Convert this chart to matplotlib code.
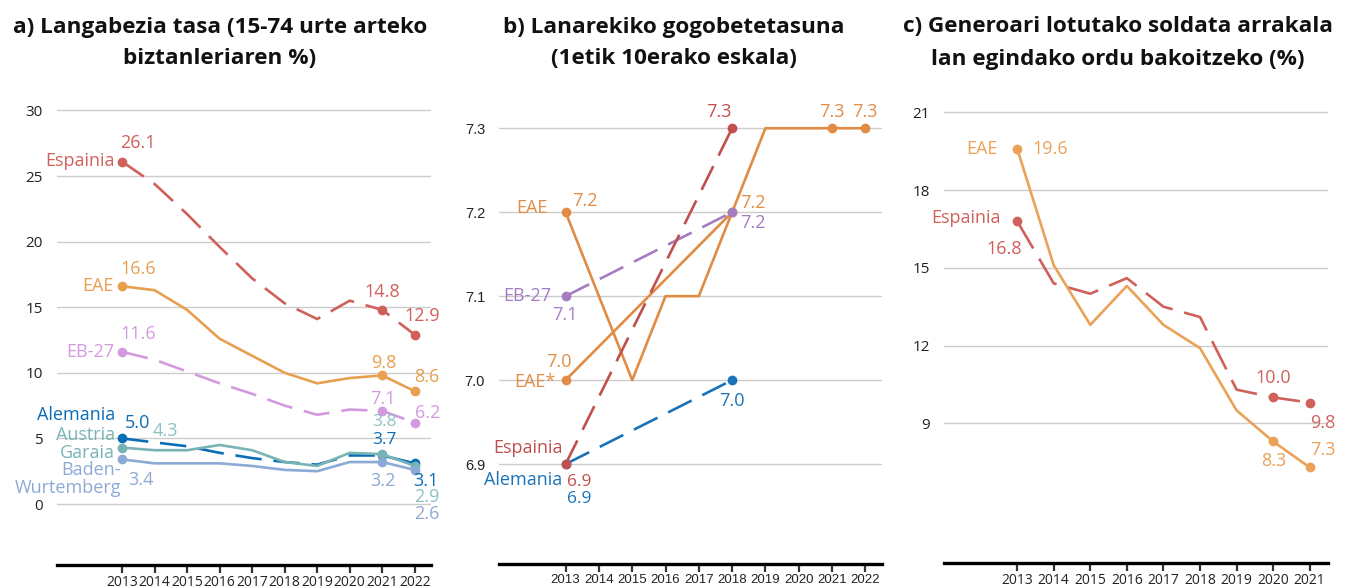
import matplotlib
matplotlib.use('Agg')
import matplotlib.pyplot as plt

plt.rcParams['font.family'] = ['Open Sans', 'DejaVu Sans']

# a) Langabezia tasa
years_a = [2013, 2014, 2015, 2016, 2017, 2018, 2019, 2020, 2021, 2022]
esp_a = [26.1, 24.4, 22.1, 19.6, 17.2, 15.3, 14.1, 15.5, 14.8, 12.9]
eae_a = [16.6, 16.3, 14.8, 12.6, 11.3, 10.0, 9.2, 9.6, 9.8, 8.6]
eb27_a = [11.6, 11.0, 10.1, 9.2, 8.4, 7.5, 6.8, 7.2, 7.1, 6.2]
ale_a = [5.0, 4.7, 4.4, 3.9, 3.5, 3.2, 3.0, 3.7, 3.7, 3.1]
aus_a = [4.3, 4.1, 4.1, 4.5, 4.1, 3.2, 2.9, 3.9, 3.8, 2.9]
bw_a = [3.4, 3.1, 3.1, 3.1, 2.9, 2.6, 2.5, 3.2, 3.2, 2.6]
yticks_a = [0, 5, 10, 15, 20, 25, 30]

# b) Lanarekiko gogobetetasuna
years_b = [2013, 2014, 2015, 2016, 2017, 2018, 2019, 2020, 2021, 2022]
eae_b = [7.2, 7.1, 7.0, 7.1, 7.1, 7.2, 7.3, 7.3, 7.3, 7.3]
years_b2 = [2013, 2018]
eae2_b = [7.0, 7.2]
eb27_b = [7.1, 7.2]
esp_b = [6.9, 7.3]
ale_b = [6.9, 7.0]
yticks_b = [6.9, 7.0, 7.1, 7.2, 7.3]

# c) Soldata arrakala
years_c = [2013, 2014, 2015, 2016, 2017, 2018, 2019, 2020, 2021]
eae_c = [19.6, 15.1, 12.8, 14.3, 12.8, 11.9, 9.5, 8.3, 7.3]
esp_c = [16.8, 14.4, 14.0, 14.6, 13.5, 13.1, 10.3, 10.0, 9.8]
yticks_c = [9, 12, 15, 18, 21]

W, H = 1346, 588
fig = plt.figure(figsize=(W / 100, H / 100), dpi=100)


def ardatza(left, right, top, bottom):
    return fig.add_axes([left / W, 1 - bottom / H, (right - left) / W, (bottom - top) / H])


def itxura(ax, yticks, fmt, ticksize, xticksize, tfont=None):
    ax.set_yticks(yticks)
    ax.set_yticklabels([fmt.format(v) for v in yticks], fontsize=ticksize, color='#222222',
                       family=tfont)
    ax.tick_params(axis='y', length=0, pad=10)
    ax.grid(axis='y', color='#cccccc', linewidth=1)
    ax.set_axisbelow(True)
    for s in ['left', 'right', 'top']:
        ax.spines[s].set_visible(False)
    ax.spines['bottom'].set_linewidth(2.4)
    ax.spines['bottom'].set_color('black')
    ax.tick_params(axis='x', length=6, width=1.6, color='#333333', pad=1,
                   labelsize=xticksize, labelcolor='#222222')


def lab(ax, x, y, txt, color, dx, dy, ha='left', size=13, ls=1.1):
    # dx, dy pixeletan (dy gora positiboa)
    ax.annotate(txt, (x, y), xytext=(dx * 0.72, dy * 0.72), textcoords='offset points',
                ha=ha, va='center', color=color, fontsize=size, linespacing=ls,
                annotation_clip=False)


# ---------- a ----------
ax = ardatza(57, 431, 98, 565)
ax.set_xlim(2011, 2022.5)
ax.set_ylim(-4.65, 30.95)
itxura(ax, yticks_a, '{:d}', 11, 10)
ax.set_xticks(years_a)

c_esp, c_eae, c_eb, c_ale, c_aus, c_bw = '#d0605a', '#e8a050', '#d49ae0', '#0b6db5', '#78b3b5', '#8caad6'
mk = [0, 8, 9]
ax.plot(years_a, eb27_a, color=c_eb, lw=1.9, dashes=(10, 4.5), marker='o', ms=6, markevery=mk)
ax.plot(years_a, esp_a, color=c_esp, lw=1.9, dashes=(10, 4.5), marker='o', ms=6, markevery=mk)
ax.plot(years_a, eae_a, color=c_eae, lw=1.9, marker='o', ms=6, markevery=mk)
ax.plot(years_a, ale_a, color=c_ale, lw=1.9, dashes=(10, 4.5), marker='o', ms=6, markevery=mk)
ax.plot(years_a, aus_a, color=c_aus, lw=1.9, marker='o', ms=6, markevery=mk)
ax.plot(years_a, bw_a, color=c_bw, lw=1.9, marker='o', ms=6, markevery=mk)

lab(ax, 2013, esp_a[0], 'Espainia', c_esp, -7, 1, 'right')
lab(ax, 2013, esp_a[0], '26.1', c_esp, -2, 19)
lab(ax, 2013, eae_a[0], 'EAE', c_eae, -8, 0, 'right')
lab(ax, 2013, eae_a[0], '16.6', c_eae, -2, 17)
lab(ax, 2013, eb27_a[0], 'EB-27', c_eb, -8, 0, 'right')
lab(ax, 2013, eb27_a[0], '11.6', c_eb, -2, 18)
lab(ax, 2013, ale_a[0], 'Alemania', c_ale, -7, 23, 'right')
lab(ax, 2013, ale_a[0], '5.0', c_ale, 3, 15)
lab(ax, 2013, aus_a[0], 'Austria\nGaraia', c_aus, -7, 4, 'right', ls=1.0)
lab(ax, 2013, aus_a[0], '4.3', '#8ec0c0', 31, 17)
lab(ax, 2013, bw_a[0], 'Baden-\nWurtemberg', c_bw, -1, -20, 'right', ls=1.0)
lab(ax, 2013, bw_a[0], '3.4', c_bw, 6, -21)

lab(ax, 2021, esp_a[8], '14.8', c_esp, 0, 18, 'center')
lab(ax, 2021, eae_a[8], '9.8', c_eae, 2, 12, 'center')
lab(ax, 2021, eb27_a[8], '7.1', c_eb, 1, 12, 'center')
lab(ax, 2021, aus_a[8], '3.8', '#8ec0c0', 2, 32, 'center', size=12.5)
lab(ax, 2021, ale_a[8], '3.7', c_ale, 2, 15, 'center', size=12.5)
lab(ax, 2021, bw_a[8], '3.2', c_bw, 1, -19, 'center')

lab(ax, 2022, esp_a[9], '12.9', c_esp, 7, 19, 'center')
lab(ax, 2022, eae_a[9], '8.6', c_eae, -1, 14)
lab(ax, 2022, eb27_a[9], '6.2', c_eb, 0, 10)
lab(ax, 2022, ale_a[9], '3.1', c_ale, -1, -18)
lab(ax, 2022, aus_a[9], '2.9', '#8ec0c0', -1, -31)
lab(ax, 2022, bw_a[9], '2.6', c_bw, -1, -44)

# ---------- b ----------
ax = ardatza(499, 882, 98, 564)
ax.set_xlim(2011, 2022.5)
ax.set_ylim(6.781, 7.336)
itxura(ax, yticks_b, '{:.1f}', 10.5, 9.5, tfont='Liberation Sans')
ax.set_xticks(years_b)
for t in ax.get_xticklabels():
    t.set_family('Liberation Sans')

b_eae, b_esp, b_eb, b_ale = '#e08c45', '#c0504d', '#a47cc2', '#1a73b8'
ax.plot(years_b, eae_b, color=b_eae, lw=1.9, marker='o', ms=6, markevery=[0, 8, 9])
ax.plot(years_b2, eae2_b, color=b_eae, lw=1.9, marker='o', ms=6)
ax.plot(years_b2, eb27_b, color=b_eb, lw=1.9, dashes=(10, 4.5), marker='o', ms=6)
ax.plot(years_b2, ale_b, color=b_ale, lw=1.9, dashes=(10, 4.5), marker='o', ms=6)
ax.plot(years_b2, esp_b, color=b_esp, lw=1.9, dashes=(10, 4.5), marker='o', ms=6)

lab(ax, 2013, eae_b[0], 'EAE', b_eae, -18, 4, 'right')
lab(ax, 2013, eae_b[0], '7.2', b_eae, 7, 11)
lab(ax, 2013, eb27_b[0], 'EB-27', b_eb, -14, 0, 'right')
lab(ax, 2013, eb27_b[0], '7.1', b_eb, -1, -19, 'center')
lab(ax, 2013, eae2_b[0], 'EAE*', b_eae, -10, -2, 'right')
lab(ax, 2013, eae2_b[0], '7.0', b_eae, -7, 18, 'center')
lab(ax, 2013, esp_b[0], 'Espainia', b_esp, -3, 16, 'right')
lab(ax, 2013, esp_b[0], '6.9', b_esp, 1, -18, size=12.5)
lab(ax, 2013, ale_b[0], 'Alemania', b_ale, -3, -16, 'right')
lab(ax, 2013, ale_b[0], '6.9', b_ale, 1, -35, size=12.5)
lab(ax, 2018, esp_b[1], '7.3', b_esp, -13, 16, 'center')
lab(ax, 2018, eae2_b[1], '7.2', b_eae, 8, 9)
lab(ax, 2018, eb27_b[1], '7.2', b_eb, 8, -11)
lab(ax, 2018, ale_b[1], '7.0', b_ale, 0, -21, 'center')
lab(ax, 2021, eae_b[8], '7.3', b_eae, 0, 16, 'center')
lab(ax, 2022, eae_b[9], '7.3', b_eae, 0, 16, 'center')

# ---------- c ----------
ax = ardatza(944, 1328, 98, 563)
ax.set_xlim(2011, 2021.5)
ax.set_ylim(3.612, 21.55)
itxura(ax, yticks_c, '{:d}', 11, 10)
ax.set_xticks(years_c)

k_eae, k_esp = '#eba258', '#d0605a'
ax.plot(years_c, esp_c, color=k_esp, lw=1.9, dashes=(12, 4.5), marker='o', ms=6, markevery=[0, 7, 8])
ax.plot(years_c, eae_c, color=k_eae, lw=1.9, marker='o', ms=6, markevery=[0, 7, 8])

lab(ax, 2013, eae_c[0], 'EAE', k_eae, -20, 0, 'right')
lab(ax, 2013, eae_c[0], '19.6', k_eae, 15, 0)
lab(ax, 2013, esp_c[0], 'Espainia', k_esp, -16, 3, 'right')
lab(ax, 2013, esp_c[0], '16.8', k_esp, 5, -28, 'right')
lab(ax, 2020, esp_c[7], '10.0', k_esp, 0, 19, 'center')
lab(ax, 2020, eae_c[7], '8.3', k_eae, 1, -20, 'center')
lab(ax, 2021, esp_c[8], '9.8', k_esp, 0, -20)
lab(ax, 2021, eae_c[8], '7.3', k_eae, 0, 17)

# Izenburuak
izenburuak = [
    (220, 'a) Langabezia tasa (15-74 urte arteko', 'biztanleriaren %)'),
    (674, 'b) Lanarekiko gogobetetasuna', '(1etik 10erako eskala)'),
    (1118, 'c) Generoari lotutako soldata arrakala', 'lan egindako ordu bakoitzeko (%)'),
]
for xp, l1, l2 in izenburuak:
    fig.text(xp / W, 1 - 27 / H, l1, ha='center', va='center', fontsize=16.2,
             weight='bold', color='#111111')
    fig.text(xp / W, 1 - 59 / H, l2, ha='center', va='center', fontsize=16.2,
             weight='bold', color='#111111')

fig.savefig('out.png', dpi=100)
